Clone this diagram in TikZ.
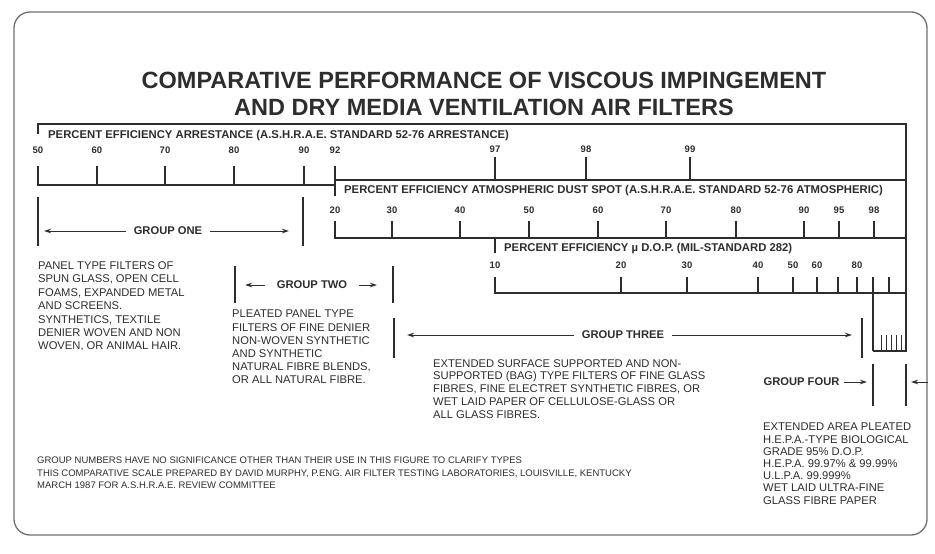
\documentclass[tikz,border=0pt]{standalone}
\usepackage{fontspec}
\setmainfont{Liberation Sans}
\usetikzlibrary{arrows.meta, positioning}
\definecolor{inkgray}{RGB}{45, 45, 45}
\definecolor{framegray}{RGB}{110, 110, 118}

\begin{document}
\begin{tikzpicture}[x=1pt, y=-1pt,
        % Set global font and ink colour for consistency
        font=\fontsize{11.2}{13.4}\selectfont, text=inkgray,
        % Define reusable styles for different elements of the chart
        panel/.style={draw=framegray, line width=1.3pt, rounded corners=16pt,
            minimum width=913pt, minimum height=523pt, inner sep=0pt},
        scaleline/.style={draw=inkgray, line width=1.4pt},
        tickmark/.style={draw=inkgray, line width=1.3pt},
        grpbar/.style={draw=inkgray, line width=1.2pt},
        grparrow/.style={-{Stealth[length=7pt, width=4.5pt]}, line width=1pt, inkgray},
        maintitle/.style={font=\fontsize{23.5}{27}\selectfont\bfseries},
        scalehead/.style={font=\fontsize{11.3}{13}\selectfont\bfseries, anchor=west, inner sep=0pt},
        num/.style={font=\fontsize{9.5}{10}\selectfont\bfseries, inner sep=0pt},
        grp/.style={font=\fontsize{11.2}{13}\selectfont\bfseries, inner xsep=8pt, inner ysep=1pt},
        desc/.style={align=left, anchor=north west, inner sep=0pt},
        note/.style={font=\fontsize{9.5}{12.5}\selectfont, align=left, anchor=north west, inner sep=0pt}
    ]

    \useasboundingbox (0,0) rectangle (935,554);
    \node[panel] (panel) at (470.5,273.5) {};

    \node[maintitle] (title1) at (484,80) {COMPARATIVE PERFORMANCE OF VISCOUS IMPINGEMENT};
    \node[maintitle] (title2) at (484,107) {AND DRY MEDIA VENTILATION AIR FILTERS};

    % Arrestance scale
    \draw[scaleline] (38,134) -- (38,124) -- (906,124) -- (906,351) -- (873,351);
    \draw[scaleline] (38,166) -- (38,185) -- (335,185);
    \draw[scaleline] (335,166) -- (335,196);
    \draw[scaleline] (335,180) -- (906,180);
    \node[scalehead] (head1) at (48,136) {PERCENT EFFICIENCY ARRESTANCE (A.S.H.R.A.E. STANDARD 52-76 ARRESTANCE)};
    \foreach \x/\v in {38/50, 97/60, 165/70, 234/80, 304/90, 335/92} {
        \node[num] (arr\v) at (\x,150) {\v};
    }
    \foreach \x in {97, 165, 234, 304} {
        \draw[tickmark] (\x,166) -- (\x,185);
    }
    \foreach \x/\v in {495/97, 586/98, 690/99} {
        \node[num] (arr\v) at (\x,149) {\v};
        \draw[tickmark] (\x,157) -- (\x,180);
    }

    % Dust spot scale
    \draw[scaleline] (335,221) -- (335,238) -- (906,238);
    \node[scalehead] (head2) at (344,191) {PERCENT EFFICIENCY ATMOSPHERIC DUST SPOT (A.S.H.R.A.E. STANDARD 52-76 ATMOSPHERIC)};
    \foreach \x/\v in {335/20, 392/30, 460/40, 529/50, 598/60, 666/70, 736/80, 804/90, 839/95, 874/98} {
        \node[num] (dust\v) at (\x,210.5) {\v};
        \draw[tickmark] (\x,221) -- (\x,238);
    }

    % D.O.P. scale
    \draw[scaleline] (495,238) -- (495,253);
    \draw[scaleline] (495,277) -- (495,293) -- (906,293);
    \draw[scaleline] (873,277) -- (873,351);
    \node[scalehead] (head3) at (504,249) {PERCENT EFFICIENCY µ D.O.P. (MIL-STANDARD 282)};
    \foreach \x/\v in {495/10, 621/20, 687/30, 758/40, 793/50, 817/60, 857/80} {
        \node[num] (dop\v) at (\x,265) {\v};
    }
    \foreach \x in {621, 687, 758, 793, 817, 838, 857, 889} {
        \draw[tickmark] (\x,277) -- (\x,293);
    }
    \foreach \x in {881, 886, 891, 896, 901} {
        \draw[tickmark, line width=1pt] (\x,335) -- (\x,351);
    }

    % Group one
    \draw[grpbar] (38,197) -- (38,246);
    \draw[grpbar] (303,197) -- (303,246);
    \node[grp] (g1) at (168,231) {GROUP ONE};
    \coordinate (g1l) at (44,231);
    \coordinate (g1r) at (289,231);
    \draw[grparrow] (g1) -- (g1l);
    \draw[grparrow] (g1) -- (g1r);
    \node[desc] (d1) at (38,261.5) {PANEL TYPE FILTERS OF\\SPUN GLASS, OPEN CELL\\FOAMS, EXPANDED METAL\\AND SCREENS.\\SYNTHETICS, TEXTILE\\DENIER WOVEN AND NON\\WOVEN, OR ANIMAL HAIR.};

    % Group two
    \draw[grpbar] (235,266) -- (235,303);
    \draw[grpbar] (393,266) -- (393,303);
    \node[grp, inner xsep=12pt] (g2) at (312,285) {GROUP TWO};
    \coordinate (g2l) at (245,285);
    \coordinate (g2r) at (377,285);
    \draw[grparrow] (g2) -- (g2l);
    \draw[grparrow] (g2) -- (g2r);
    \node[desc, font=\fontsize{11.2}{13.2}\selectfont] (d2) at (232,310) {PLEATED PANEL TYPE\\FILTERS OF FINE DENIER\\NON-WOVEN SYNTHETIC\\AND SYNTHETIC\\NATURAL FIBRE BLENDS,\\OR ALL NATURAL FIBRE.};

    % Group three
    \draw[grpbar] (394,318) -- (394,358);
    \draw[grpbar] (862,318) -- (862,358);
    \node[grp] (g3) at (623,335) {GROUP THREE};
    \coordinate (g3l) at (407,335);
    \coordinate (g3r) at (852,335);
    \draw[grparrow] (g3) -- (g3l);
    \draw[grparrow] (g3) -- (g3r);
    \node[desc, font=\fontsize{11.2}{12.9}\selectfont] (d3) at (433,359) {EXTENDED SURFACE SUPPORTED AND NON-\\SUPPORTED (BAG) TYPE FILTERS OF FINE GLASS\\FIBRES, FINE ELECTRET SYNTHETIC FIBRES, OR\\WET LAID PAPER OF CELLULOSE-GLASS OR\\ALL GLASS FIBRES.};

    % Group four
    \draw[grpbar] (873,364) -- (873,406);
    \draw[grpbar] (906,364) -- (906,406);
    \node[grp, inner xsep=4pt] (g4) at (801.5,382) {GROUP FOUR};
    \coordinate (g4l) at (867,382);
    \coordinate (g4r) at (911,382);
    \draw[grparrow] (g4) -- (g4l);
    \draw[grparrow] (g4 -| panel.east) -- (g4r);
    \node[desc, font=\fontsize{11.2}{12.2}\selectfont] (d4) at (763,423) {EXTENDED AREA PLEATED\\H.E.P.A.-TYPE BIOLOGICAL\\GRADE 95\% D.O.P.\\H.E.P.A. 99.97\% \& 99.99\%\\U.L.P.A. 99.999\%\\WET LAID ULTRA-FINE\\GLASS FIBRE PAPER};

    % Footnote
    \node[note] (fn) at (37,457) {GROUP NUMBERS HAVE NO SIGNIFICANCE OTHER THAN THEIR USE IN THIS FIGURE TO CLARIFY TYPES\\THIS COMPARATIVE SCALE PREPARED BY DAVID MURPHY, P.ENG. AIR FILTER TESTING LABORATORIES, LOUISVILLE, KENTUCKY\\MARCH 1987 FOR A.S.H.R.A.E. REVIEW COMMITTEE};

\end{tikzpicture}
\end{document}
